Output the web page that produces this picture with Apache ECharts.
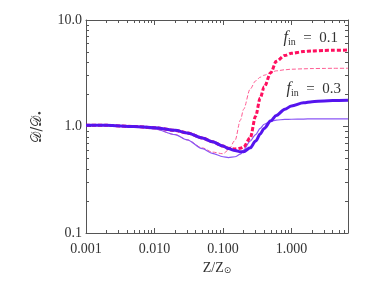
<!DOCTYPE html>
<html>
<head>
<meta charset="utf-8">
<script src="https://cdn.jsdelivr.net/npm/echarts@6/dist/echarts.min.js"></script>
<style>html,body{margin:0;padding:0;background:#fff;}#c{width:374px;height:281px;}</style>
</head>
<body>
<div id="c"></div>
<script>
// Z/Zsun sample points
const zValues = [0.001,0.002,0.005,0.01,0.02,0.03,0.05,0.07,0.1,0.12,0.15,0.18,0.2,0.25,0.3,0.35,0.4,0.5,0.6,0.8,1.0,1.5,2,3,4,6.7];
// f_in = 0.3, thick solid
const fin03Thick = [1.03,1.025,1.0,0.975,0.92,0.87,0.78,0.72,0.655,0.62,0.595,0.58,0.58,0.63,0.73,0.85,0.96,1.13,1.27,1.45,1.56,1.67,1.71,1.74,1.75,1.76];
// f_in = 0.3, thin solid
const fin03Thin = [1.03,1.02,0.99,0.95,0.84,0.75,0.62,0.56,0.52,0.51,0.52,0.55,0.60,0.73,0.84,0.96,1.05,1.12,1.15,1.165,1.17,1.175,1.18,1.18,1.18,1.18];
// f_in = 0.1, thick dashed
const fin01Thick = [1.03,1.025,1.0,0.975,0.92,0.87,0.78,0.72,0.655,0.625,0.615,0.625,0.645,0.78,1.25,1.85,2.35,3.2,4.1,4.65,4.87,5.05,5.12,5.18,5.2,5.22];
// f_in = 0.1, thin dashed
const fin01Thin = [1.03,1.02,0.99,0.95,0.84,0.75,0.63,0.575,0.555,0.60,0.74,1.15,1.45,2.25,2.68,2.90,3.03,3.22,3.33,3.41,3.45,3.48,3.50,3.51,3.52,3.52];

const xMajorTicks = [0.001,0.01,0.1,1];
const xMinorTicks = [0.002,0.003,0.004,0.005,0.006,0.007,0.008,0.009,0.02,0.03,0.04,0.05,0.06,0.07,0.08,0.09,0.2,0.3,0.4,0.5,0.6,0.7,0.8,0.9,2,3,4,5,6];
const yMajorTicks = [0.1,1,10];
const yMinorTicks = [0.2,0.3,0.4,0.5,0.6,0.7,0.8,0.9,2,3,4,5,6,7,8,9];
const xMin = 0.001, xMax = 6.7, yMin = 0.1, yMax = 10;

const axisColor = '#555';
const textColor = '#333';
const serif = '"Liberation Serif", "DejaVu Serif", serif';

function xAx(pos, ticks, len, showLine, showLabel, extra) {
  return Object.assign({
    type: 'log', logBase: 10, min: xMin, max: xMax, position: pos,
    axisLine: {show: showLine, lineStyle: {color: axisColor, width: 1}},
    axisTick: {show: true, inside: true, length: len, customValues: ticks, lineStyle: {color: axisColor}},
    axisLabel: {show: showLabel, customValues: xMajorTicks, margin: 9, color: textColor, fontFamily: serif, fontSize: 14,
      formatter: v => Number(v).toFixed(3)},
    splitLine: {show: false}, minorTick: {show: false}
  }, extra || {});
}
function yAx(pos, ticks, len, showLine, showLabel, extra) {
  return Object.assign({
    type: 'log', logBase: 10, min: yMin, max: yMax, position: pos,
    axisLine: {show: showLine, lineStyle: {color: axisColor, width: 1}},
    axisTick: {show: true, inside: true, length: len, customValues: ticks, lineStyle: {color: axisColor}},
    axisLabel: {show: showLabel, customValues: yMajorTicks, margin: 4, color: textColor, fontFamily: serif, fontSize: 14,
      formatter: v => Number(v).toFixed(1)},
    splitLine: {show: false}, minorTick: {show: false}
  }, extra || {});
}

const chart = echarts.init(document.getElementById('c'), null, {renderer: 'canvas'});
const pairs = arr => zValues.map((z, i) => [z, arr[i]]);

const annRich = {
  f: {fontFamily: serif, fontStyle: 'italic', fontSize: 16, fill: textColor, lineHeight: 18, verticalAlign: 'middle'},
  s: {fontFamily: serif, fontSize: 10, fill: textColor, lineHeight: 18, verticalAlign: 'bottom'},
  t: {fontFamily: serif, fontSize: 15, fill: textColor, lineHeight: 18, verticalAlign: 'middle'}
};

chart.setOption({
  animation: false,
  backgroundColor: '#fff',
  grid: {left: 86, right: 26, top: 20, bottom: 48, containLabel: false},
  xAxis: [
    xAx('bottom', xMajorTicks, 5, true, true, {
      name: 'Z/Z{s|⊙}', nameLocation: 'middle', nameGap: 18,
      nameTextStyle: {color: textColor, fontFamily: serif, fontSize: 14,
        rich: {s: {fontSize: 9, fontFamily: '"DejaVu Sans", sans-serif', color: textColor, padding: [6,0,0,0]}}}
    }),
    xAx('bottom', xMinorTicks, 3, false, false),
    xAx('top', xMajorTicks, 5, true, false),
    xAx('top', xMinorTicks, 3, false, false)
  ],
  yAxis: [
    yAx('left', yMajorTicks, 5, true, true, {
      name: '𝒟/𝒟{s|•}', nameLocation: 'middle', nameGap: 41, nameRotate: 90,
      nameTextStyle: {color: textColor, fontFamily: '"DejaVu Serif", "DejaVu Sans", serif', fontSize: 14,
        rich: {s: {fontSize: 9, color: textColor, padding: [6,0,0,0]}}}
    }),
    yAx('left', yMinorTicks, 3, false, false),
    yAx('right', yMajorTicks, 5, true, false),
    yAx('right', yMinorTicks, 3, false, false)
  ],
  series: [
    {name: 'fin01thin', type: 'line', data: pairs(fin01Thin), showSymbol: false, smooth: 0.3, smoothMonotone: 'x',
      lineStyle: {color: '#ff5c93', width: 1, type: [4, 2]}, z: 2},
    {name: 'fin03thin', type: 'line', data: pairs(fin03Thin), showSymbol: false, smooth: 0.3, smoothMonotone: 'x',
      lineStyle: {color: '#8a55f5', width: 1.2}, z: 3},
    {name: 'fin01thick', type: 'line', data: pairs(fin01Thick), showSymbol: false, smooth: 0.3, smoothMonotone: 'x',
      lineStyle: {color: '#ff0f5f', width: 3, type: [4, 2]}, z: 4},
    {name: 'fin03thick', type: 'line', data: pairs(fin03Thick), showSymbol: false, smooth: 0.3, smoothMonotone: 'x',
      lineStyle: {color: '#5514ee', width: 3}, z: 5}
  ],
  graphic: [
    {type: 'text', right: 36, top: 30, style: {text: '{f|f}{s|in}{t|  =  0.1}', fill: textColor, rich: annRich}},
    {type: 'text', right: 33, top: 81, style: {text: '{f|f}{s|in}{t|  =  0.3}', fill: textColor, rich: annRich}}
  ]
});
</script>
</body>
</html>
